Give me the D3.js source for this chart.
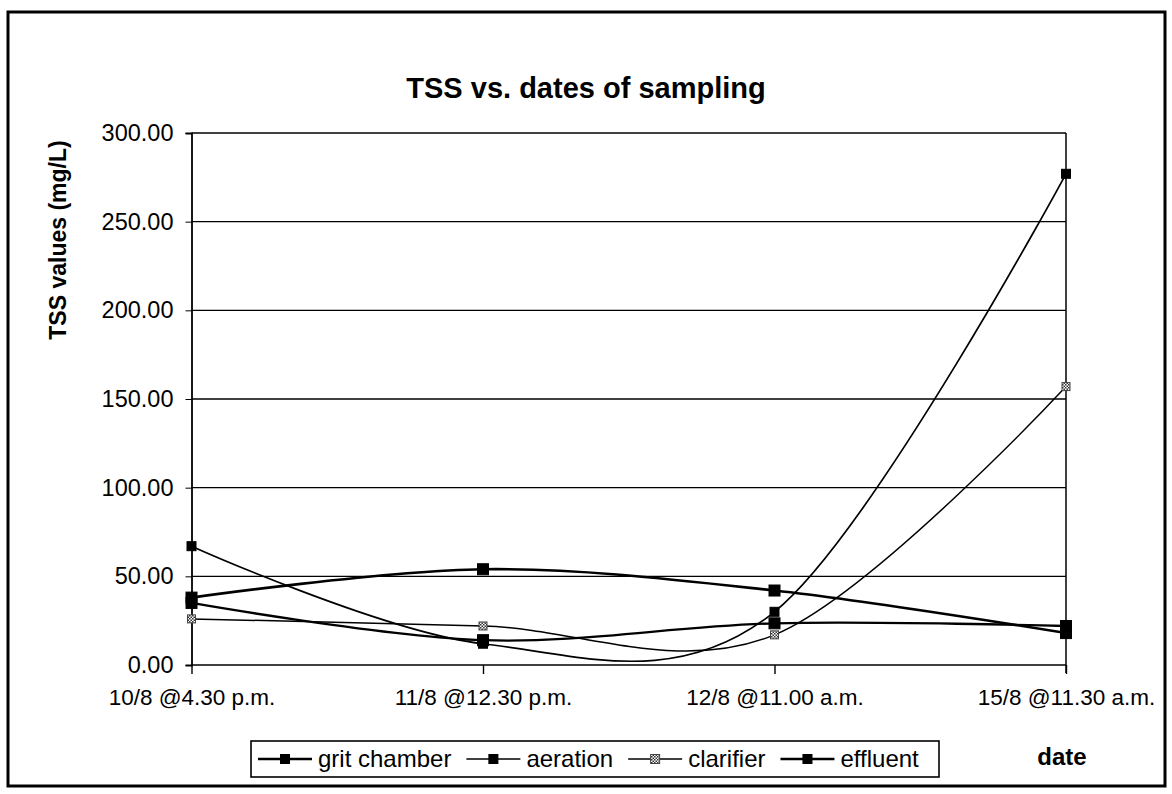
<!DOCTYPE html>
<html>
<head>
<meta charset="utf-8">
<script src="https://cdn.jsdelivr.net/npm/d3@7"></script>
<style>
  body { margin: 0; background: #fff; }
  text { font-family: "Liberation Sans", Arial, sans-serif; fill: #000; }
</style>
</head>
<body>
<svg id="chart" width="1172" height="794"></svg>
<script>
// sampling dates (categories)
var dates = ["10/8 @4.30 p.m.", "11/8 @12.30 p.m.", "12/8 @11.00 a.m.", "15/8 @11.30 a.m."];
// TSS values (mg/L) per sampling point
var gritChamber = [38, 54, 42, 18];
var aeration = [67, 12, 30, 277];
var clarifier = [26, 22, 17, 157];
var effluent = [35, 14, 23.5, 22];
var yTicks = [0, 50, 100, 150, 200, 250, 300];
var seriesNames = ["grit chamber", "aeration", "clarifier", "effluent"];

var series = [
  {name: seriesNames[0], values: gritChamber, width: 2.6, size: 11, hatch: false},
  {name: seriesNames[1], values: aeration, width: 1.7, size: 9, hatch: false},
  {name: seriesNames[2], values: clarifier, width: 1.5, size: 8, hatch: true},
  {name: seriesNames[3], values: effluent, width: 2.3, size: 11, hatch: false}
];

var svg = d3.select("#chart");

// hatch pattern for clarifier markers
var defs = svg.append("defs");
var pat = defs.append("pattern").attr("id", "hatch")
  .attr("width", 3).attr("height", 3).attr("patternUnits", "userSpaceOnUse");
pat.append("rect").attr("width", 3).attr("height", 3).attr("fill", "#fff");
pat.append("rect").attr("width", 1.5).attr("height", 1.5).attr("fill", "#333");
pat.append("rect").attr("x", 1.5).attr("y", 1.5).attr("width", 1.5).attr("height", 1.5).attr("fill", "#333");

// outer frame
svg.append("rect").attr("x", 8).attr("y", 12).attr("width", 1157).attr("height", 774)
  .attr("fill", "none").attr("stroke", "#000").attr("stroke-width", 3);

var x = d3.scalePoint().domain(dates).range([191.5, 1066]).padding(0);
var y = d3.scaleLinear().domain([0, 300]).range([665, 133]);

// gridlines
svg.append("g").selectAll("line").data(yTicks).enter().append("line")
  .attr("x1", 191.5).attr("x2", 1066)
  .attr("y1", function(d) { return y(d); }).attr("y2", function(d) { return y(d); })
  .attr("stroke", "#000").attr("stroke-width", 1.3);

// right edge of plot
svg.append("line").attr("x1", 1066).attr("x2", 1066).attr("y1", y(300)).attr("y2", y(0) + 8)
  .attr("stroke", "#000").attr("stroke-width", 1.5);

// y axis
var yAxis = svg.append("g").attr("transform", "translate(191.5,0)")
  .call(d3.axisLeft(y).tickValues(yTicks).tickSize(6).tickPadding(12)
    .tickFormat(function(d) { return d3.format(".2f")(d); }));
yAxis.select(".domain").attr("stroke-width", 1.8);
yAxis.selectAll("text").style("font-size", "23.5px").attr("font-family", null);

// x axis
var xAxis = svg.append("g").attr("transform", "translate(0," + y(0) + ")")
  .call(d3.axisBottom(x).tickSize(9).tickPadding(15).tickSizeOuter(0));
xAxis.select(".domain").remove();
xAxis.selectAll("line").attr("stroke-width", 1.4);
xAxis.selectAll("text").style("font-size", "22.5px").attr("font-family", null);

// smoothed lines
var line = d3.line()
  .x(function(d, i) { return x(dates[i]); })
  .y(function(d) { return y(d); })
  .curve(d3.curveCatmullRom.alpha(0));

svg.append("g").selectAll("path").data(series).enter().append("path")
  .attr("d", function(s) { return line(s.values); })
  .attr("fill", "none").attr("stroke", "#000")
  .attr("stroke-width", function(s) { return s.width; });

// markers
series.forEach(function(s) {
  svg.append("g").selectAll("rect").data(s.values).enter().append("rect")
    .attr("x", function(d, i) { return x(dates[i]) - s.size / 2; })
    .attr("y", function(d) { return y(d) - s.size / 2; })
    .attr("width", s.size).attr("height", s.size)
    .attr("fill", s.hatch ? "url(#hatch)" : "#000")
    .attr("stroke", s.hatch ? "#444" : "#000").attr("stroke-width", 1);
});

// title
svg.append("text").attr("x", 586).attr("y", 98).attr("text-anchor", "middle")
  .style("font-size", "29px").style("font-weight", "bold")
  .text("TSS vs. dates of sampling");

// y label
svg.append("text").attr("transform", "translate(66,240) rotate(-90)")
  .attr("text-anchor", "middle").style("font-size", "23px").style("font-weight", "bold")
  .text("TSS values (mg/L)");

// x label
svg.append("text").attr("x", 1062).attr("y", 765).attr("text-anchor", "middle")
  .style("font-size", "24px").style("font-weight", "bold").text("date");

// legend
var lg = svg.append("g");
lg.append("rect").attr("x", 251).attr("y", 741).attr("width", 688).attr("height", 36)
  .attr("fill", "#fff").attr("stroke", "#000").attr("stroke-width", 1.6);
var lx = 258;
series.forEach(function(s) {
  var ly = 759;
  lg.append("line").attr("x1", lx).attr("x2", lx + 54).attr("y1", ly).attr("y2", ly)
    .attr("stroke", "#000").attr("stroke-width", s.width);
  lg.append("rect").attr("x", lx + 27 - 4.5).attr("y", ly - 4.5).attr("width", 9).attr("height", 9)
    .attr("fill", s.hatch ? "url(#hatch)" : "#000").attr("stroke", s.hatch ? "#444" : "#000");
  var t = lg.append("text").attr("x", lx + 60).attr("y", ly + 8)
    .style("font-size", "24px").text(s.name);
  lx += 60 + t.node().getComputedTextLength() + 15;
});
</script>
</body>
</html>
